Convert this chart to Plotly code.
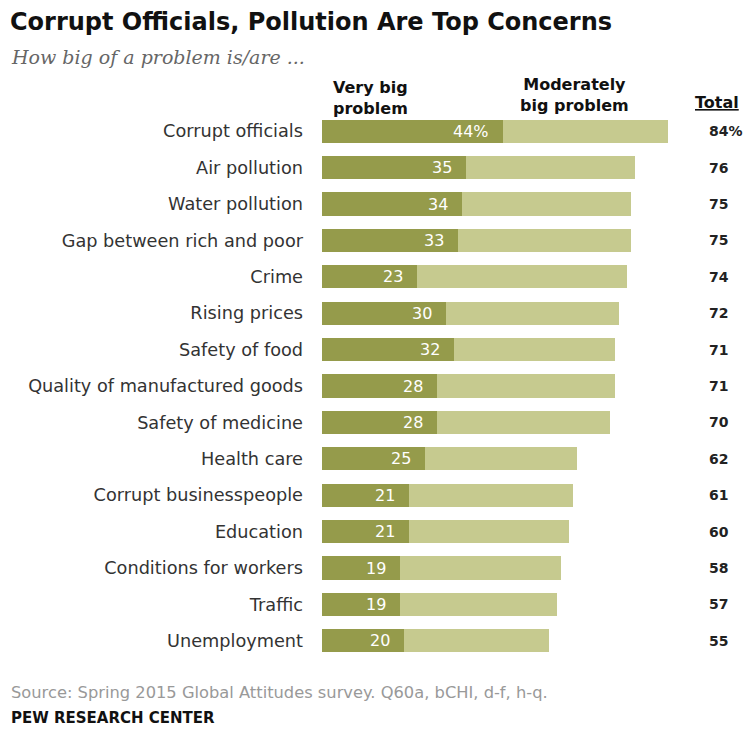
import plotly.graph_objects as go

categories = ["Corrupt officials", "Air pollution", "Water pollution", "Gap between rich and poor",
              "Crime", "Rising prices", "Safety of food", "Quality of manufactured goods",
              "Safety of medicine", "Health care", "Corrupt businesspeople", "Education",
              "Conditions for workers", "Traffic", "Unemployment"]
very_big = [44, 35, 34, 33, 23, 30, 32, 28, 28, 25, 21, 21, 19, 19, 20]
total = [84, 76, 75, 75, 74, 72, 71, 71, 70, 62, 61, 60, 58, 57, 55]
moderately = [t - v for t, v in zip(total, very_big)]
very_labels = [f"{v}%" if i == 0 else str(v) for i, v in enumerate(very_big)]
total_labels = [f"{t}%" if i == 0 else str(t) for i, t in enumerate(total)]

DARK = "#959b4b"
LIGHT = "#c6ca8f"
W, H = 748, 740
L, R, T, B = 322, 14, 113, 81
SANS = "DejaVu Sans, Liberation Sans, Arial"

fig = go.Figure()
fig.add_trace(go.Bar(y=categories, x=very_big, orientation="h", marker=dict(color=DARK, line=dict(width=0)),
                     width=0.64, hoverinfo="skip"))
fig.add_trace(go.Bar(y=categories, x=moderately, orientation="h", marker=dict(color=LIGHT, line=dict(width=0)),
                     width=0.64, hoverinfo="skip"))

def ppx(px):
    return (px - L) / (W - L - R)
def ppy(py):
    return 1 - (py - T) / (H - T - B)

annotations = []
for c, v, lab in zip(categories, very_big, very_labels):
    annotations.append(dict(x=v, y=c, xref="x", yref="y", text=lab, showarrow=False,
                            xanchor="right", xshift=-12,
                            font=dict(family=SANS, size=16, color="white")))
for c, lab in zip(categories, total_labels):
    annotations.append(dict(x=ppx(708), y=c, xref="paper", yref="y", text="<b>" + lab + "</b>",
                            showarrow=False, xanchor="left", borderpad=0,
                            font=dict(family=SANS, size=14, color="#222222")))

annotations += [
    dict(x=ppx(370), y=ppy(98), xref="paper", yref="paper", text="<b>Very big<br>problem</b>",
         showarrow=False, xanchor="center", yanchor="middle", align="left",
         font=dict(family=SANS, size=16, color="#111111")),
    dict(x=ppx(574), y=ppy(95), xref="paper", yref="paper", text="<b>Moderately<br>big problem</b>",
         showarrow=False, xanchor="center", yanchor="middle", align="center",
         font=dict(family=SANS, size=16, color="#111111")),
    dict(x=ppx(717), y=ppy(102), xref="paper", yref="paper", text="<b><u>Total</u></b>",
         showarrow=False, xanchor="center", yanchor="middle",
         font=dict(family=SANS, size=16, color="#111111")),
    dict(x=ppx(9), y=ppy(57), xref="paper", yref="paper", text="<i>How big of a problem is/are ...</i>",
         showarrow=False, xanchor="left", yanchor="middle",
         font=dict(family="DejaVu Serif, Georgia, serif", size=19, color="#666666")),
    dict(x=ppx(9), y=ppy(692), xref="paper", yref="paper",
         text="Source: Spring 2015 Global Attitudes survey. Q60a, bCHI, d-f, h-q.",
         showarrow=False, xanchor="left", yanchor="middle",
         font=dict(family=SANS, size=16.3, color="#999999")),
    dict(x=ppx(9), y=ppy(718), xref="paper", yref="paper", text="<b>PEW RESEARCH CENTER</b>",
         showarrow=False, xanchor="left", yanchor="middle",
         font=dict(family=SANS, size=15, color="#111111")),
]

fig.update_layout(
    width=W, height=H,
    margin=dict(l=L, r=R, t=T, b=B, pad=0),
    barmode="stack", bargap=0.36,
    showlegend=False,
    plot_bgcolor="white", paper_bgcolor="white",
    title=dict(text="<b>Corrupt Officials, Pollution Are Top Concerns</b>", x=10 / W, xanchor="left",
               y=1 - 22 / H, yanchor="middle",
               font=dict(family=SANS, size=24, color="#111111")),
    xaxis=dict(range=[0, (W - L - R) / 4.12], visible=False, fixedrange=True),
    yaxis=dict(categoryorder="array", categoryarray=categories, autorange="reversed",
               showgrid=False, zeroline=False, showline=False, ticks="", ticklabelstandoff=18,
               tickfont=dict(family=SANS, size=17.7, color="#333333")),
    annotations=annotations,
)
fig.write_html("out.html")
